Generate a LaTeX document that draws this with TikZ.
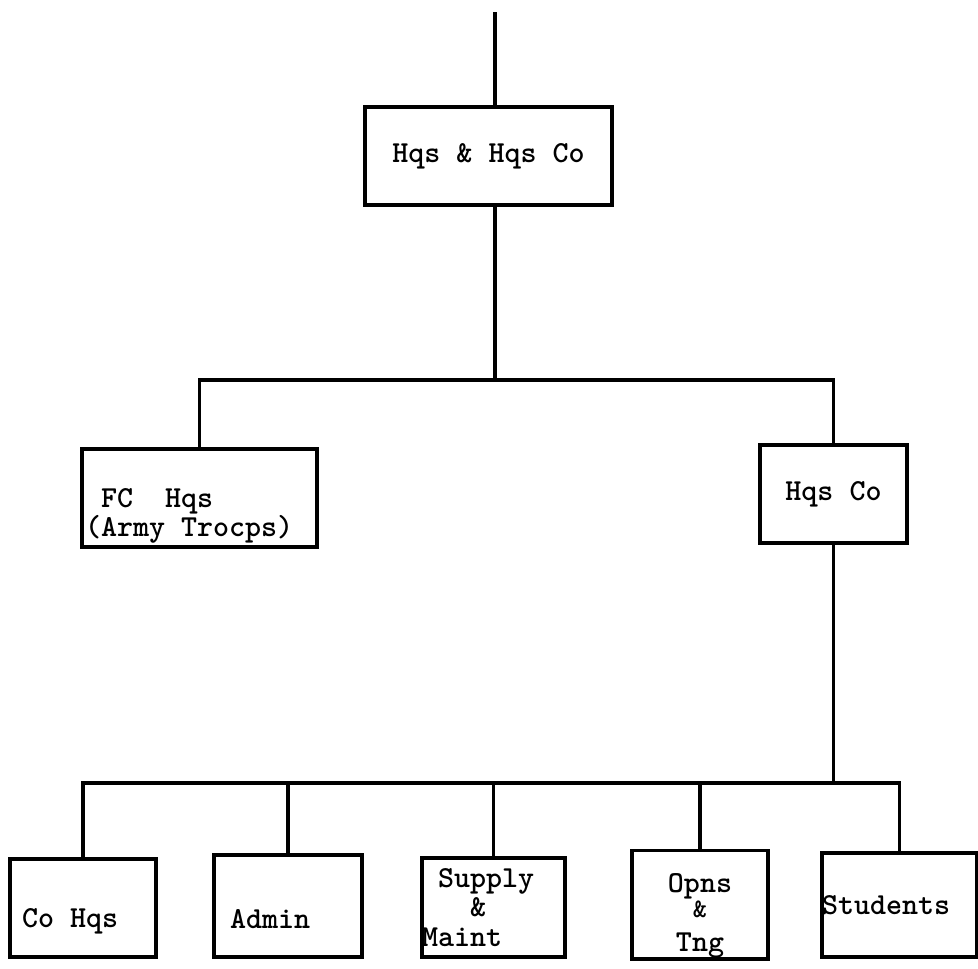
\documentclass[tikz,border=0pt]{standalone}
\usepackage{tikz}
\usetikzlibrary{positioning}
\newlength\pix
\setlength\pix{0.025cm}
\tikzset{
  unit/.style={
    rectangle,
    draw=black,
    line width=2.8pt,
    inner sep=0pt,
    font=\ttfamily\bfseries\fontsize{21.7pt}{21pt}\selectfont,
  },
  link/.style={
    line width=2.8pt,
  },
}

\begin{document}
\begin{tikzpicture}[x=0.025cm, y=-0.025cm]
  \useasboundingbox (0,0) rectangle (978,968);

  % Top level
  \node (hq) [unit, minimum width=247\pix, minimum height=98\pix] at (488.5,156) {Hqs \& Hqs Co};

  % Second level
  \node (fc) [unit, text width=229\pix, inner xsep=3\pix, minimum height=98\pix, align=flush left]
    at (199.5,498) {\rule{0pt}{39pt}\ FC\ \ Hqs\\(Army Trocps)};
  \node (hqsco) [unit, minimum width=147\pix, minimum height=98\pix] at (833.5,494) {Hqs Co};

  % Company sections
  \node (cohqs) [unit, text width=122\pix, inner xsep=12\pix, minimum height=98\pix, align=flush left]
    at (83,908) {\rule{0pt}{32pt}Co Hqs};
  \node (admin) [unit, text width=116\pix, inner xsep=16\pix, minimum height=102\pix, align=flush left]
    at (288,906) {\rule{0pt}{32pt}Admin};
  \node (supply) [unit, text width=143\pix, minimum height=99\pix, align=flush left]
    at (493.5,907.5) {\ Supply\\\ \ \ \&\\Maint};
  \node (opns) [unit, text width=136\pix, minimum height=103\pix, align=flush center]
    at (700,904.5) {\rule{0pt}{30pt}Opns\\[-3pt]{\fontsize{19pt}{19pt}\selectfont\&}\\[3pt]Tng};
  \node (students) [unit, text width=155\pix, minimum height=104\pix, align=flush left]
    at (899.5,905) {Students};

  % Connectors
  \coordinate (top) at (495,12);
  \coordinate (split) at (495,380);
  \coordinate (bus) at (833.5,783);
  \draw [link] (top) -- (top |- hq.north);
  \draw [link] (hq.south -| top) -- (split);
  \draw [link] (fc.north) |- (split) -| (hqsco.north);
  \draw [link] (hqsco.south) -- (bus);
  \draw [link] (cohqs.north) |- (bus) -| (students.north);
  \foreach \n in {admin,supply,opns}
    \draw [link] (\n.north) -- (\n.north |- bus);

\end{tikzpicture}
\end{document}
